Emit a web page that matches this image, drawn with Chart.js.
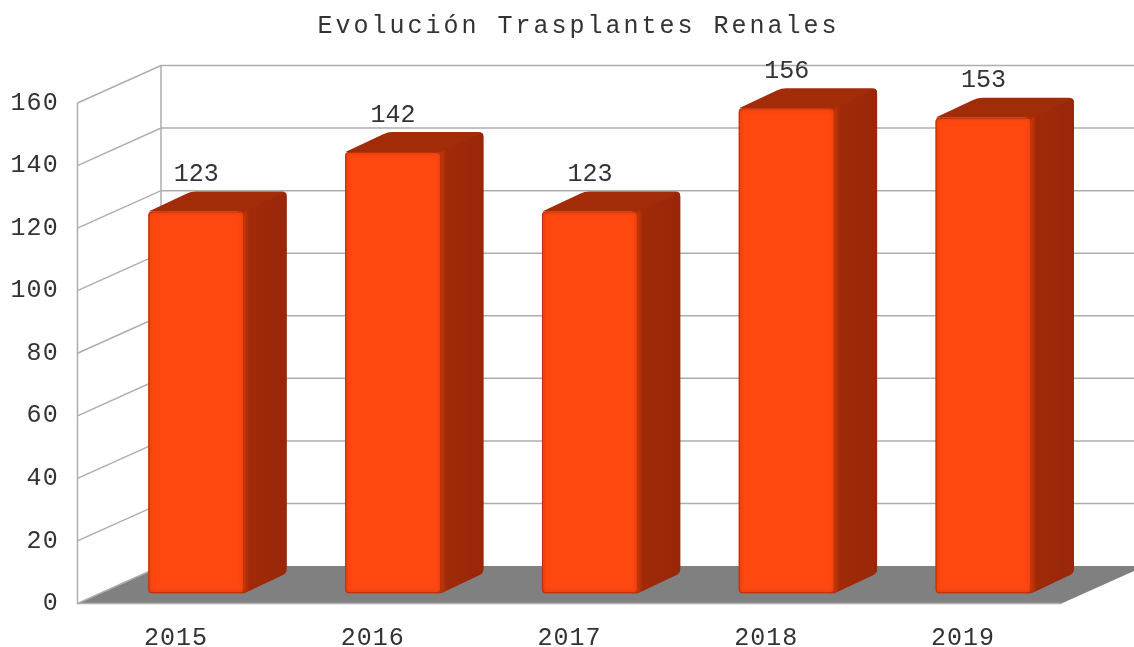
<!DOCTYPE html>
<html><head><meta charset="utf-8">
<style>html,body{margin:0;padding:0;background:#fff}#w{width:1134px;height:647px;position:relative}</style>
<script src="https://cdn.jsdelivr.net/npm/chart.js@4"></script></head>
<body><div id="w"><canvas id="c" width="1134" height="647"></canvas></div>
<script>
const categories = ['2015','2016','2017','2018','2019'];
const trasplantes = [123,142,123,156,153];
const yTicks = [0,20,40,60,80,100,120,140,160];
const titleText = 'Evolución Trasplantes Renales';

const MONO = '"Liberation Mono","DejaVu Sans Mono",monospace';
const WALL = {dx:83.5, dy:-37.5}, BAR = {tx:20.4, ty:-7.2, dx:42.5, dy:-20};
const GRID = '#ADADAD', TEXT = '#333333';

function rounded(ctx, pts, radii){
  ctx.beginPath();
  const n = pts.length;
  for(let i=0;i<n;i++){
    const p=pts[i], a=pts[(i+n-1)%n], b=pts[(i+1)%n], r=radii[i];
    const la=Math.hypot(a[0]-p[0],a[1]-p[1]), lb=Math.hypot(b[0]-p[0],b[1]-p[1]);
    const s=[p[0]+(a[0]-p[0])*r/la,p[1]+(a[1]-p[1])*r/la], e=[p[0]+(b[0]-p[0])*r/lb,p[1]+(b[1]-p[1])*r/lb];
    if(i===0) ctx.moveTo(s[0],s[1]); else ctx.lineTo(s[0],s[1]);
    ctx.quadraticCurveTo(p[0],p[1],e[0],e[1]);
  }
  ctx.closePath();
}
function spaced(obj, method, ctx, sp, shift){
  if(obj.__sp) return; obj.__sp=true;
  const o=obj[method];
  obj[method]=function(...a){
    ctx.save();
    ctx.letterSpacing=sp;
    if(shift) ctx.translate(shift,0);
    const r=o.apply(this,a);
    ctx.letterSpacing='0px';
    ctx.restore();
    return r;
  };
}

const box3d = {
  id:'box3d',
  beforeDraw(chart){
    spaced(chart.titleBlock,'draw',chart.ctx,'3px',11.5);
    spaced(chart.scales.y,'drawLabels',chart.ctx,'1.2px');
    spaced(chart.scales.x,'drawLabels',chart.ctx,'1px');
  },
  beforeDatasetsDraw(chart){
    const {ctx,scales:{x,y}} = chart;
    const y0=y.getPixelForValue(0), yT=y.getPixelForValue(160), L=x.left, R=x.right;
    ctx.save();
    ctx.fillStyle='#808080';
    ctx.beginPath();ctx.moveTo(L,y0);ctx.lineTo(R,y0);ctx.lineTo(R+WALL.dx,y0+WALL.dy);ctx.lineTo(L+WALL.dx,y0+WALL.dy);ctx.closePath();ctx.fill();
    ctx.strokeStyle=GRID;ctx.lineWidth=1.5;
    y.ticks.forEach(t=>{
      const p=y.getPixelForValue(t.value);
      ctx.beginPath();ctx.moveTo(L,p);ctx.lineTo(L+WALL.dx,p+WALL.dy);
      if(t.value!==0) ctx.lineTo(chart.width,p+WALL.dy);
      ctx.stroke();
    });
    ctx.beginPath();ctx.moveTo(L,yT);ctx.lineTo(L,y0);ctx.lineTo(R,y0);ctx.stroke();
    ctx.beginPath();ctx.moveTo(L+WALL.dx,yT+WALL.dy);ctx.lineTo(L+WALL.dx,y0+WALL.dy);ctx.stroke();
    ctx.translate(BAR.tx,BAR.ty);
    chart.getDatasetMeta(0).data.forEach(b=>{
      const l=b.x-b.width/2, r=b.x+b.width/2, t=b.y, bs=b.base;
      ctx.save();
      rounded(ctx,[[l,t],[l+BAR.dx,t+BAR.dy],[r+BAR.dx,t+BAR.dy],[r+BAR.dx,bs+BAR.dy],[r,bs],[r-6,bs],[r-6,t]],[2,5,5,5,0,0,0]);
      ctx.fillStyle='#A22B08';ctx.fill();
      ctx.clip();
      const g=ctx.createLinearGradient(r,0,r+BAR.dx,0);
      g.addColorStop(0,'#C2360A');g.addColorStop(0.12,'#A02A08');g.addColorStop(1,'#982708');
      ctx.fillStyle=g;
      ctx.beginPath();ctx.moveTo(r,t);ctx.lineTo(r+BAR.dx,t+BAR.dy);ctx.lineTo(r+BAR.dx,bs+BAR.dy);ctx.lineTo(r,bs);ctx.closePath();ctx.fill();
      ctx.restore();
    });
    ctx.restore();
    ctx.save();
    ctx.translate(BAR.tx,BAR.ty);
  },
  afterDatasetsDraw(chart){
    const {ctx}=chart;
    chart.getDatasetMeta(0).data.forEach(b=>{
      const l=b.x-b.width/2, t=b.y, w=b.width, h=b.base-b.y;
      ctx.save();
      ctx.beginPath();ctx.roundRect(l,t,w,h,4);ctx.clip();
      ctx.beginPath();ctx.roundRect(l,t,w,h,4);
      ctx.strokeStyle='#B5300A';ctx.lineWidth=2;ctx.shadowColor='#C8380C';ctx.shadowBlur=4;
      ctx.stroke();
      ctx.restore();
    });
    ctx.restore();
    ctx.save();
    ctx.translate(BAR.tx,BAR.ty);
    ctx.font='25px '+MONO;ctx.fillStyle=TEXT;ctx.textAlign='center';ctx.textBaseline='middle';
    chart.getDatasetMeta(0).data.forEach((b,i)=>ctx.fillText(String(trasplantes[i]),b.x,b.y-37));
    ctx.restore();
  }
};

new Chart(document.getElementById('c'),{
  type:'bar',
  data:{labels:categories,datasets:[{
    data:trasplantes,base:1,clip:false,
    backgroundColor:'#FF4810',borderWidth:0,borderRadius:4,borderSkipped:false,
    categoryPercentage:1,barPercentage:0.487
  }]},
  options:{
    responsive:false,animation:false,
    layout:{padding:0},
    plugins:{
      legend:{display:false},tooltip:{enabled:false},
      title:{display:true,text:titleText,color:TEXT,font:{family:MONO,size:25,weight:'normal'},padding:{top:11,bottom:62}}
    },
    scales:{
      x:{grid:{display:false,drawTicks:false},border:{display:false},
         ticks:{color:TEXT,padding:20,maxRotation:0,font:{family:MONO,size:25}},
         afterFit:s=>{s.height=43.5;}},
      y:{min:0,max:160,grid:{display:false,drawTicks:false},border:{display:false},
         afterBuildTicks:s=>{s.ticks=yTicks.map(v=>({value:v}));},
         ticks:{color:TEXT,padding:18.5,font:{family:MONO,size:25}},
         afterFit:s=>{s.width=77.5;}},
      y2:{position:'right',min:0,max:160,grid:{display:false,drawTicks:false},border:{display:false},ticks:{display:false},
         afterFit:s=>{s.width=72.5;}}
    }
  },
  plugins:[box3d]
});
</script></body></html>
